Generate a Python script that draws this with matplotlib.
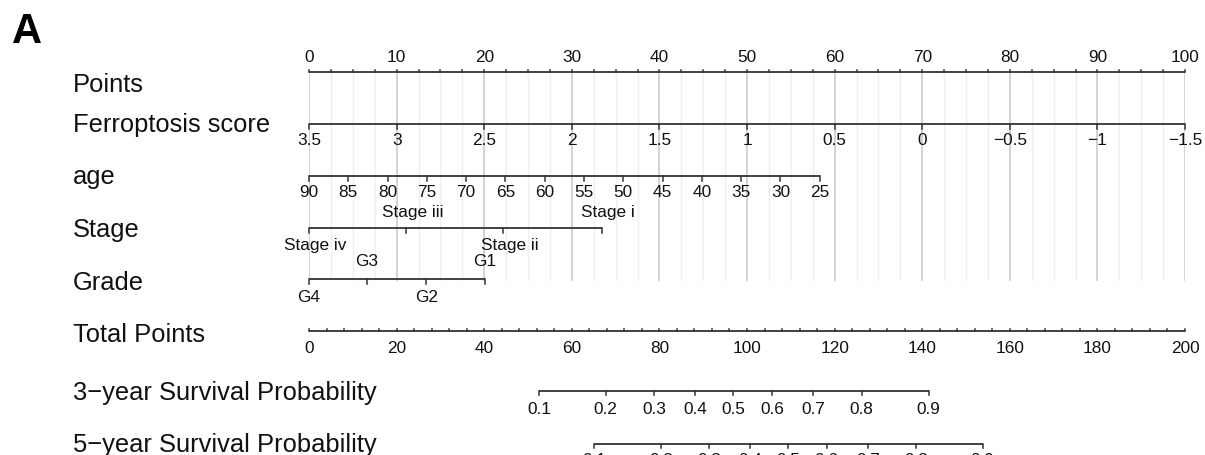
import numpy as np
import matplotlib
matplotlib.use("Agg")
from matplotlib import pyplot as plt
from matplotlib import transforms

plt.rcParams['font.family'] = ['Liberation Sans', 'DejaVu Sans']

# nomogram data
points_ticks = np.arange(0, 101, 10)

ferro_vals = [3.5, 3, 2.5, 2, 1.5, 1, 0.5, 0, -0.5, -1, -1.5]
ferro_labels = ['3.5', '3', '2.5', '2', '1.5', '1', '0.5', '0', '\u22120.5', '\u22121', '\u22121.5']
ferro_pts_range = (0, 100)

age_vals = [90, 85, 80, 75, 70, 65, 60, 55, 50, 45, 40, 35, 30, 25]
age_pts_range = (0, 58.3)

stage_levels = ['Stage iv', 'Stage iii', 'Stage ii', 'Stage i']
stage_pts = [0, 11.1, 22.2, 33.4]

grade_levels = ['G4', 'G3', 'G2', 'G1']
grade_pts = [0, 6.6, 13.4, 20.1]

total_ticks = np.arange(0, 201, 20)

surv_probs = [0.1, 0.2, 0.3, 0.4, 0.5, 0.6, 0.7, 0.8, 0.9]
surv3_total = [52.5, 67.7, 78.8, 88.1, 96.8, 105.8, 115.1, 126.2, 141.5]
surv5_total = [65.1, 80.4, 91.3, 100.7, 109.4, 118.2, 127.6, 138.6, 153.8]

row_titles = ['Points', 'Ferroptosis score', 'age', 'Stage', 'Grade', 'Total Points',
              '3\u2212year Survival Probability', '5\u2212year Survival Probability']

# layout (y in pixels from top)
title_base = [92, 132, 184, 237, 290, 342, 400, 452]
y_points, y_ferro, y_age, y_stage, y_grade, y_total, y_s3, y_s5 = 73, 125, 177, 229, 280, 332, 392, 445
LC = '#333333'
TK = 4.5
FS_TICK = 12.4
FS_TITLE = 18.4

fig = plt.figure(figsize=(12.05, 4.56), dpi=100)
ax = fig.add_axes([309 / 1205, 0, 876 / 1205, 1])
ax.set_xlim(0, 100)
ax.set_ylim(456, 0)
ax.axis('off')


def axis_line(x0, x1, y):
    ax.plot([x0, x1], [y, y], color=LC, lw=1.3, clip_on=False, solid_capstyle='butt')


def ticks(xs, y, up=False, length=TK):
    d = -length if up else length
    for x in xs:
        ax.plot([x, x], [y, y + d], color=LC, lw=1.1, clip_on=False)


def labels(xs, texts, y):
    for x, t in zip(xs, texts):
        ax.text(x, y, t, ha='center', va='center', fontsize=FS_TICK, color='#111111')


# grid lines
grid_x = np.arange(0, 100.01, 2.5)
for gx in grid_x:
    major = abs(gx % 10) < 1e-9
    ax.plot([gx, gx], [y_points, y_grade + 1], color='#d0d0d0' if major else '#efefef',
            lw=1.3 if major else 1.0, zorder=0)

# Points
axis_line(0, 100, y_points)
ticks(np.arange(0, 100.01, 2.5), y_points, up=True, length=2.5)
labels(points_ticks, [str(v) for v in points_ticks], 57)

# Ferroptosis score (linear: highest score -> 0 points)
ferro_x = np.interp(ferro_vals, [min(ferro_vals), max(ferro_vals)], ferro_pts_range[::-1])
axis_line(ferro_x.min(), ferro_x.max(), y_ferro)
ticks(ferro_x, y_ferro)
labels(ferro_x, ferro_labels, 141)

# age
age_x = np.interp(age_vals, [min(age_vals), max(age_vals)], age_pts_range[::-1])
axis_line(age_x.min(), age_x.max(), y_age)
ticks(age_x, y_age)
labels(age_x, [str(v) for v in age_vals], 193)

# Stage
axis_line(min(stage_pts), max(stage_pts), y_stage)
ticks(stage_pts, y_stage)
for i, (x, t) in enumerate(zip(stage_pts, stage_levels)):
    ax.text(x + 0.7, 246 if i % 2 == 0 else 213, t, ha='center', va='center',
            fontsize=FS_TICK, color='#111111')

# Grade
axis_line(min(grade_pts), max(grade_pts), y_grade)
ticks(grade_pts, y_grade)
for i, (x, t) in enumerate(zip(grade_pts, grade_levels)):
    ax.text(x, 298 if i % 2 == 0 else 262, t, ha='center', va='center',
            fontsize=FS_TICK, color='#111111')

# Total Points (axis runs 0-200 over the same width)
axis_line(0, 100, y_total)
ticks(np.arange(0, 200.01, 4) / 2, y_total, up=True, length=2.5)
labels(total_ticks / 2, [str(v) for v in total_ticks], 349)

# survival axes
for tot, y, ly in [(surv3_total, y_s3, 410), (surv5_total, y_s5, 461)]:
    xs = np.array(tot) / 2
    axis_line(xs[0], xs[-1], y)
    ticks(xs, y)
    labels(xs, [str(p) for p in surv_probs], ly)

# row titles
tr = transforms.blended_transform_factory(fig.transFigure, ax.transData)
for t, yb in zip(row_titles, title_base):
    ax.text(73 / 1205, yb, t, transform=tr, ha='left', va='baseline',
            fontsize=FS_TITLE, color='#111111')

fig.text(12 / 1205, 1 - 43 / 456, 'A', ha='left', va='baseline',
         fontsize=30, fontweight='bold', color='black')

fig.savefig('out.png', dpi=100, facecolor='white')
